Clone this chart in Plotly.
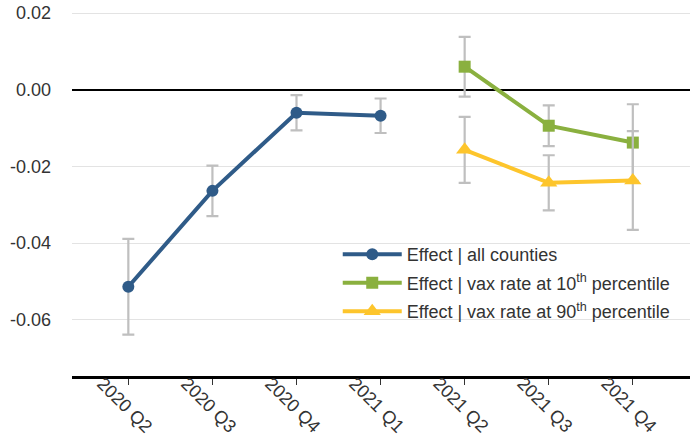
import plotly.graph_objects as go

quarters = ["2020 Q2", "2020 Q3", "2020 Q4", "2021 Q1", "2021 Q2", "2021 Q3", "2021 Q4"]

all_q = ["2020 Q2", "2020 Q3", "2020 Q4", "2021 Q1"]
all_eff = [-0.0514, -0.0264, -0.0060, -0.0068]
all_err = [0.0125, 0.0066, 0.0046, 0.0045]

vax_q = ["2021 Q2", "2021 Q3", "2021 Q4"]
p10_eff = [0.0060, -0.0094, -0.0138]
p10_err = [0.0078, 0.0053, 0.0100]
p90_eff = [-0.0157, -0.0243, -0.0237]
p90_err = [0.0086, 0.0072, 0.0129]

y_ticks = [0.02, 0.0, -0.02, -0.04, -0.06]
y_tick_text = ["0.02", "0.00", "-0.02", "-0.04", "-0.06"]

err_style = dict(type="data", visible=True, color="#BFBFBF", thickness=2.2, width=6)

fig = go.Figure()
fig.add_trace(go.Scatter(
    x=all_q, y=all_eff, name="Effect | all counties", mode="lines+markers",
    legendgroup="a",
    line=dict(color="#2F5B88", width=4),
    marker=dict(symbol="circle", size=12, color="#2F5B88"),
    error_y=dict(array=all_err, **err_style),
))
fig.add_trace(go.Scatter(
    x=vax_q, y=p10_eff, name="Effect | vax rate at 10<sup>th</sup> percentile", mode="lines+markers",
    legendgroup="b",
    line=dict(color="#8AB03F", width=4),
    marker=dict(symbol="square", size=12, color="#8AB03F"),
    error_y=dict(array=p10_err, **err_style),
))
fig.add_trace(go.Scatter(
    x=vax_q, y=p90_eff, name="Effect | vax rate at 90<sup>th</sup> percentile", mode="lines+markers",
    legendgroup="c",
    line=dict(color="#FDC52C", width=4),
    marker=dict(symbol="triangle-up", size=15, color="#FDC52C"),
    error_y=dict(array=p90_err, **err_style),
))

# x tick labels as rotated annotations centred under each tick
for q in quarters:
    fig.add_annotation(
        x=q, xref="x", y=-0.078, yref="paper", text=q, textangle=45,
        showarrow=False, xanchor="center", yanchor="middle", xshift=-4,
        font=dict(size=18, color="#333333"),
    )

fig.update_layout(
    width=696, height=441,
    margin=dict(l=72, r=6, t=0, b=65),
    paper_bgcolor="white", plot_bgcolor="white",
    font=dict(family="Liberation Sans, Arial, sans-serif", size=18, color="#333333"),
    showlegend=True,
    legend=dict(x=0.430, y=0.372, xanchor="left", yanchor="top",
                bgcolor="rgba(0,0,0,0)", itemwidth=59, font=dict(size=18, color="#333333"),
                tracegroupgap=2),
)
fig.update_xaxes(
    type="category", categoryorder="array", categoryarray=quarters,
    range=[-0.67, 6.68], showticklabels=False, automargin=False,
    showgrid=False, showline=True, linecolor="black", linewidth=2.5,
    ticks="outside", ticklen=6, tickcolor="#333333", tickwidth=1,
)
fig.update_yaxes(
    range=[-0.0747, 0.0234], automargin=False,
    tickvals=y_ticks, ticktext=y_tick_text,
    showgrid=True, gridcolor="#E3E3E3", gridwidth=1,
    zeroline=True, zerolinecolor="black", zerolinewidth=2,
    showline=False, ticks="", ticklabelstandoff=20,
    ticklabeloverflow="allow",
    tickfont=dict(size=18, color="#333333"),
)

fig.write_html(
    "out.html",
    config={"displayModeBar": False},
    post_script="document.body.style.margin='0';document.body.style.overflow='hidden';",
)
